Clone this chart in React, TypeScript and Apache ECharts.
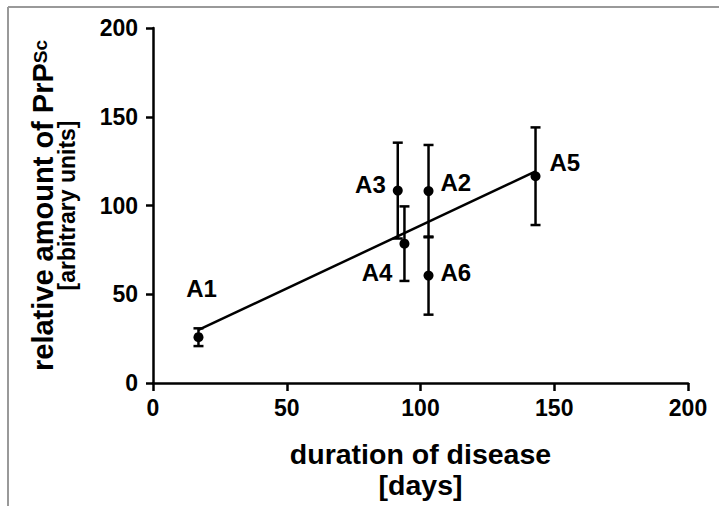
import React, { useEffect, useRef } from "react";
import * as echarts from "echarts";

const animalNames = ["A1", "A2", "A3", "A4", "A5", "A6"];
const durationDays = [17, 103, 91.5, 94, 143, 103];
const prpAmount = [25.8, 108.1, 108.4, 78.5, 116.5, 60.5];
const prpError = [5, 26, 27, 21, 27.5, 22];
const xTicks = { min: 0, max: 200, interval: 50 };
const yTicks = { min: 0, max: 200, interval: 50 };

// label placement styles (not data)
const labelPlacement: Record<string, { position: string; offset: number[] }> = {
  A1: { position: "top", offset: [3, -27] },
  A2: { position: "right", offset: [2, -9] },
  A3: { position: "left", offset: [-2, -6] },
  A4: { position: "left", offset: [-2, 29] },
  A5: { position: "right", offset: [4, -14] },
  A6: { position: "right", offset: [2, -3] },
};

function regression(xs: number[], ys: number[]) {
  const n = xs.length;
  const mx = xs.reduce((a, b) => a + b, 0) / n;
  const my = ys.reduce((a, b) => a + b, 0) / n;
  let sxy = 0;
  let sxx = 0;
  for (let i = 0; i < n; i++) {
    sxy += (xs[i] - mx) * (ys[i] - my);
    sxx += (xs[i] - mx) * (xs[i] - mx);
  }
  const slope = sxy / sxx;
  return { slope, intercept: my - slope * mx };
}

const FONT = "'Liberation Sans', Arial, sans-serif";

export default function App() {
  const ref = useRef<HTMLDivElement>(null);
  useEffect(() => {
    if (!ref.current) return;
    const chart = echarts.init(ref.current, null, { renderer: "svg" });
    const fit = regression(durationDays, prpAmount);
    const xMin = Math.min(...durationDays);
    const xMax = Math.max(...durationDays);
    const fitLine = [
      [xMin, fit.intercept + fit.slope * xMin],
      [xMax, fit.intercept + fit.slope * xMax],
    ];
    const errData = durationDays.map((x, i) => [x, prpAmount[i] - prpError[i], prpAmount[i] + prpError[i]]);
    const pointData = durationDays.map((x, i) => ({
      value: [x, prpAmount[i]],
      name: animalNames[i],
      label: labelPlacement[animalNames[i]],
    }));
    const axisCommon = {
      axisLine: { show: true, lineStyle: { color: "#000", width: 2.5 } },
      axisTick: { show: true, length: 7, lineStyle: { color: "#000", width: 2.5 } },
      splitLine: { show: false },
    };
    chart.setOption({
      animation: false,
      backgroundColor: "#fff",
      grid: { left: 153, right: 31, top: 28, bottom: 123, containLabel: false },
      xAxis: {
        type: "value",
        ...xTicks,
        ...axisCommon,
        axisTick: { show: true, length: 8, lineStyle: { color: "#000", width: 2.5 } },
        axisLabel: { margin: 13, fontSize: 23, fontWeight: "bold", color: "#000", fontFamily: FONT },
        name: "duration of disease\n[days]",
        nameLocation: "middle",
        nameGap: 55,
        nameTextStyle: { fontSize: 28.5, fontWeight: "bold", color: "#000", fontFamily: FONT, lineHeight: 31 },
      },
      yAxis: {
        type: "value",
        ...yTicks,
        ...axisCommon,
        axisLabel: { margin: 15, fontSize: 23, fontWeight: "bold", color: "#000", fontFamily: FONT },
        name: "{a|relative amount of PrP}{sup|Sc}\n{b|[arbitrary units]}",
        nameLocation: "middle",
        nameRotate: 90,
        nameGap: 74,
        nameTextStyle: {
          color: "#000",
          fontFamily: FONT,
          align: "center",
          rich: {
            a: { fontSize: 29, fontWeight: "bold", color: "#000", fontFamily: FONT, lineHeight: 24 },
            sup: { fontSize: 19, fontWeight: "bold", color: "#000", fontFamily: FONT, lineHeight: 18, verticalAlign: "top" },
            b: { fontSize: 23, fontWeight: "bold", color: "#000", fontFamily: FONT, lineHeight: 24 },
          },
        },
      },
      graphic: [
        { type: "line", shape: { x1: 8, y1: 7, x2: 719, y2: 7 }, style: { stroke: "#999", lineWidth: 2 } },
        { type: "line", shape: { x1: 8, y1: 7, x2: 8, y2: 506 }, style: { stroke: "#999", lineWidth: 2 } },
      ],
      series: [
        {
          type: "line",
          data: fitLine,
          symbol: "none",
          lineStyle: { color: "#000", width: 2.5 },
          z: 2,
        },
        {
          type: "custom",
          data: errData,
          z: 3,
          renderItem: (params: any, api: any) => {
            const x = api.value(0);
            const top = api.coord([x, api.value(2)]);
            const bot = api.coord([x, api.value(1)]);
            const w = 5;
            const st = { stroke: "#000", lineWidth: 2.5 };
            return {
              type: "group",
              children: [
                { type: "line", shape: { x1: top[0], y1: top[1], x2: bot[0], y2: bot[1] }, style: st },
                { type: "line", shape: { x1: top[0] - w, y1: top[1], x2: top[0] + w, y2: top[1] }, style: st },
                { type: "line", shape: { x1: bot[0] - w, y1: bot[1], x2: bot[0] + w, y2: bot[1] }, style: st },
              ],
            };
          },
        },
        {
          type: "scatter",
          data: pointData,
          symbol: "circle",
          symbolSize: 10,
          itemStyle: { color: "#000", opacity: 1 },
          z: 4,
          label: {
            show: true,
            formatter: "{b}",
            fontSize: 24,
            fontWeight: "bold",
            color: "#000",
            opacity: 1,
            fontFamily: FONT,
          },
        },
      ],
    });
    return () => chart.dispose();
  }, []);
  return <div ref={ref} style={{ position: "absolute", left: 0, top: 0, width: 719, height: 506 }} />;
}
